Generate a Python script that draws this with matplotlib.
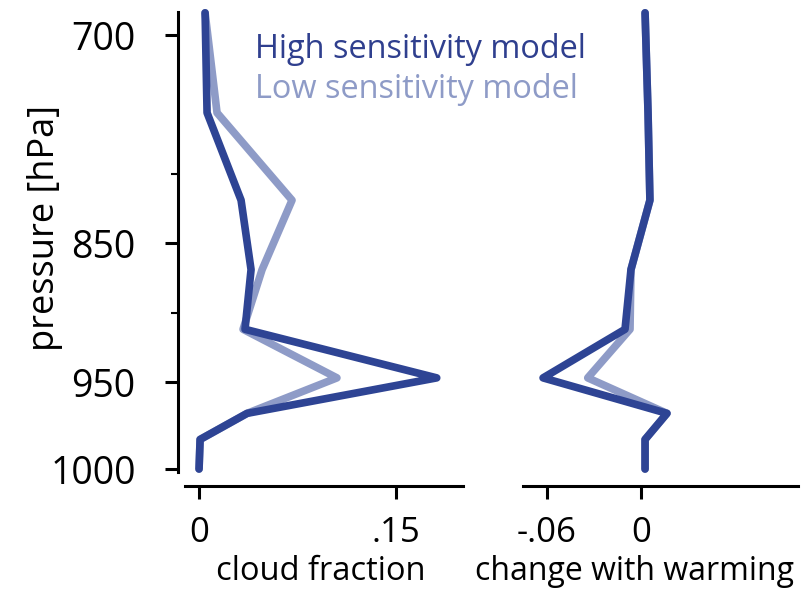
import numpy as np
import matplotlib
matplotlib.use("Agg")
import matplotlib.pyplot as plt

plt.rcParams['font.family'] = ['Open Sans', 'DejaVu Sans']

# Model levels (hPa) and profiles
pressure = [684, 756, 819, 869, 912, 947, 968, 983, 1000]

cloud_high = [0.0046, 0.0061, 0.032, 0.0396, 0.035, 0.181, 0.0366, 0.0008, 0.0]
cloud_low = [0.0046, 0.0137, 0.0708, 0.048, 0.0335, 0.105, 0.0366, 0.0008, 0.0]

change_high = [0.0026, 0.0045, 0.0057, -0.0064, -0.0102, -0.0625, 0.0166, 0.0026, 0.0026]
change_low = [0.0026, 0.0045, 0.0057, -0.0064, -0.007, -0.034, 0.0166, 0.0026, 0.0026]

y_major = [700, 850, 950, 1000]
y_major_labels = ['700', '850', '950', '1000']
y_minor = [800, 900]

cloud_ticks = [0, 0.15]
cloud_tick_labels = ['0', '.15']
change_ticks = [-0.06, 0]
change_tick_labels = ['-.06', '0']

labels = ['High sensitivity model', 'Low sensitivity model']

DARK = '#2E4494'
LIGHT = '#8E9BC7'
DARK_TEXT = '#2F3F8E'

# Pressure axis: stretched below 950 hPa
K = 1.2536


def fwd(p):
    p = np.asarray(p, dtype=float)
    return np.where(p <= 950, p, 950 + (p - 950) * K)


def inv(q):
    q = np.asarray(q, dtype=float)
    return np.where(q <= 950, q, 950 + (q - 950) / K)


W, H = 810, 596
fig = plt.figure(figsize=(W / 100, H / 100), dpi=100)


def px_axes(x0, x1, ytop, ybot):
    return fig.add_axes([x0 / W, 1 - ybot / H, (x1 - x0) / W, (ybot - ytop) / H])


ax1 = px_axes(185, 463, 12, 472)
ax2 = px_axes(523, 798, 12, 472)

line_kw = dict(lw=5.5, solid_capstyle='round', solid_joinstyle='round', clip_on=False)

ax1.plot(cloud_low, pressure, color=LIGHT, **line_kw)
ax1.plot(cloud_high, pressure, color=DARK, **line_kw)
ax2.plot(change_low, pressure, color=LIGHT, **line_kw)
ax2.plot(change_high, pressure, color=DARK, **line_kw)

for ax in (ax1, ax2):
    ax.set_yscale('function', functions=(fwd, inv))
    ax.set_ylim(1001.7, 683.4)
    ax.spines['top'].set_visible(False)
    ax.spines['right'].set_visible(False)
    ax.spines['bottom'].set_position(('outward', 10))
    ax.spines['bottom'].set_linewidth(2.2)
    ax.tick_params(axis='x', length=9.5, width=2.2, pad=12, labelsize=25)
    ax.patch.set_alpha(0)

ax1.set_xlim(-0.0107, 0.201)
ax2.set_xlim(-0.0753, 0.1002)

ax1.set_xticks(cloud_ticks, cloud_tick_labels)
ax2.set_xticks(change_ticks, change_tick_labels)

ax1.spines['left'].set_position(('outward', 5))
ax1.spines['left'].set_linewidth(2.2)
ax1.set_yticks(y_major, y_major_labels)
ax1.set_yticks(y_minor, minor=True)
ax1.tick_params(axis='y', which='major', length=9.5, width=2.2, pad=21, labelsize=27)
ax1.tick_params(axis='y', which='minor', length=5, width=1.5)
ax1.set_ylabel('pressure [hPa]', fontsize=26)
ax1.yaxis.set_label_coords(-0.44, 0.53)

ax2.spines['left'].set_visible(False)
ax2.set_yticks([])
ax2.set_yticks([], minor=True)

ax1.set_xlabel('cloud fraction', fontsize=23.5)
ax1.xaxis.set_label_coords(0.49, -0.18)
ax2.set_xlabel('change with warming', fontsize=23)
ax2.xaxis.set_label_coords(0.405, -0.18)

fig.text(255 / W, 1 - 58 / H, labels[0], color=DARK_TEXT, fontsize=23.4, va='baseline', ha='left')
fig.text(255 / W, 1 - 98 / H, labels[1], color=LIGHT, fontsize=23.4, va='baseline', ha='left')

fig.savefig('out.png', dpi=100)
